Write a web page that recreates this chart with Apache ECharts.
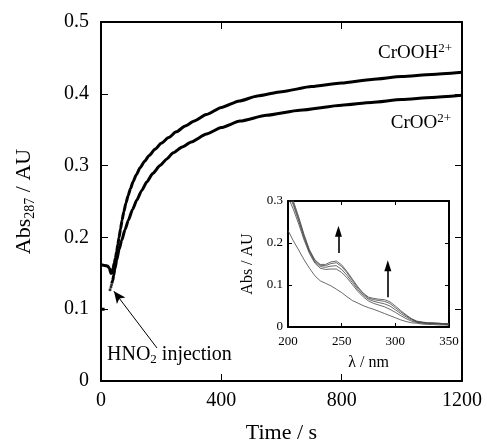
<!DOCTYPE html>
<html>
<head>
<meta charset="utf-8">
<script src="https://cdn.jsdelivr.net/npm/echarts@6/dist/echarts.min.js"></script>
<style>html,body{margin:0;padding:0;background:#fff}#c{width:487px;height:440px}</style>
</head>
<body>
<div id="c"></div>
<script>
// ---- main kinetic traces (time / s, Abs287 / AU) ----
const timeUpper = [0, 12, 22, 28, 33, 36, 40, 44, 48, 52, 56, 60, 65, 70, 76, 83, 90, 98, 107, 117, 130, 145, 160, 180, 200, 225, 250, 280, 310, 350, 400, 460, 520, 600, 700, 800, 900, 1000, 1100, 1200];
const absUpper  = [0.162, 0.161, 0.160, 0.157, 0.150, 0.150, 0.157, 0.164, 0.171, 0.180, 0.190, 0.200, 0.212, 0.224, 0.236, 0.248, 0.258, 0.268, 0.278, 0.287, 0.297, 0.306, 0.314, 0.323, 0.331, 0.339, 0.347, 0.355, 0.362, 0.371, 0.381, 0.390, 0.397, 0.403, 0.410, 0.415, 0.420, 0.424, 0.427, 0.430];
const timeLower = [36, 39, 42, 46, 52, 60, 69, 80, 91, 105, 119, 135, 152, 172, 196, 218, 240, 270, 300, 351, 400, 462, 550, 661, 800, 900, 1000, 1100, 1200];
const absLower  = [0.136, 0.140, 0.147, 0.156, 0.168, 0.183, 0.196, 0.211, 0.224, 0.239, 0.252, 0.265, 0.277, 0.289, 0.300, 0.309, 0.318, 0.326, 0.333, 0.344, 0.353, 0.362, 0.370, 0.377, 0.384, 0.388, 0.392, 0.395, 0.398];
const timeDots  = [30, 33, 35];
const absDots   = [0.127, 0.131, 0.134];
const timeLowerPre = [0, 12];
const absLowerPre  = [0.100, 0.100];
// annotation arrow (data units): tail -> tip
const injArrowTail = [186, 0.046];
const injArrowTip  = [43, 0.125];

// ---- inset spectra (λ / nm, Abs / AU) ----
const wavelengths = [200,205,210,215,220,225,230,235,240,245,250,255,260,265,270,275,280,285,290,295,300,305,310,315,320,325,330,335,340,345,350];
const spec0 = [0.230,0.205,0.183,0.160,0.140,0.122,0.110,0.104,0.098,0.090,0.082,0.072,0.063,0.057,0.051,0.046,0.042,0.037,0.032,0.027,0.022,0.017,0.013,0.010,0.009,0.007,0.006,0.006,0.005,0.005,0.004];
const spec1 = [0.31,0.28,0.245,0.207,0.175,0.152,0.140,0.137,0.138,0.138,0.130,0.117,0.101,0.085,0.072,0.062,0.056,0.052,0.048,0.042,0.035,0.027,0.020,0.014,0.011,0.009,0.008,0.008,0.007,0.006,0.006];
const spec2 = [0.32,0.29,0.252,0.212,0.178,0.155,0.144,0.142,0.145,0.146,0.137,0.123,0.106,0.089,0.076,0.066,0.061,0.058,0.055,0.050,0.041,0.032,0.024,0.017,0.012,0.010,0.009,0.009,0.008,0.007,0.007];
const spec3 = [0.33,0.295,0.257,0.216,0.181,0.158,0.147,0.146,0.151,0.153,0.144,0.129,0.111,0.093,0.079,0.069,0.065,0.063,0.061,0.056,0.046,0.036,0.027,0.019,0.013,0.011,0.010,0.009,0.009,0.008,0.008];
const spec4 = [0.34,0.30,0.262,0.220,0.184,0.160,0.149,0.149,0.155,0.157,0.148,0.132,0.114,0.096,0.081,0.071,0.068,0.066,0.065,0.060,0.050,0.039,0.029,0.020,0.014,0.012,0.010,0.010,0.009,0.008,0.008];
const insetArrows = [[[247, 0.176], [247, 0.228]], [[293, 0.071], [293, 0.146]]];

// tick labels
const mainXTicks = [0, 400, 800, 1200];
const mainYTicks = [0, 0.1, 0.2, 0.3, 0.4, 0.5];

const zip = (a, b) => a.map((v, i) => [v, b[i]]);
const F = '"Liberation Serif", "DejaVu Serif", serif';

const chart = echarts.init(document.getElementById('c'), null, {renderer: 'canvas'});

function boxAxis(type, pos, gridIndex, min, max, interval, showLabel, tickLen, fs, labelMargin, fmt) {
  return {
    type: 'value', gridIndex, position: pos, min, max, interval,
    axisLine: {show: true, onZero: false, lineStyle: {color: '#000', width: 2}},
    axisTick: {show: true, inside: true, length: tickLen, lineStyle: {color: '#000', width: 1}},
    axisLabel: {show: showLabel, color: '#000', fontFamily: F, fontSize: fs, margin: labelMargin, formatter: fmt},
    splitLine: {show: false}
  };
}

const specSeries = [spec0, spec1, spec2, spec3, spec4].map((s, i) => ({
  type: 'line', xAxisIndex: 2, yAxisIndex: 2, data: zip(wavelengths, s),
  showSymbol: false, symbol: 'none', clip: true,
  lineStyle: {color: '#444', width: 0.8}, silent: true, animation: false,
  markLine: i === 0 ? {
    silent: true, animation: false, symbol: ['none', 'triangle'], symbolSize: [7, 11],
    lineStyle: {color: '#000', width: 1.6, type: 'solid'}, label: {show: false},
    data: insetArrows.map(a => [{coord: a[0]}, {coord: a[1]}])
  } : undefined
}));

const option = {
  animation: false,
  backgroundColor: '#fff',
  grid: [
    {left: 101, top: 22, width: 361, height: 359, show: false, containLabel: false, outerBoundsMode: 'none'},
    {left: 288, top: 201, width: 161, height: 126, show: true, backgroundColor: '#fff', borderWidth: 0, containLabel: false, outerBoundsMode: 'none'}
  ],
  xAxis: [
    Object.assign(boxAxis('x', 'bottom', 0, 0, 1200, 400, true, 7, 20, 10, v => String(v)), {
      name: 'Time / s', nameLocation: 'middle', nameGap: 41,
      nameTextStyle: {color: '#000', fontFamily: F, fontSize: 22}
    }),
    boxAxis('x', 'top', 0, 0, 1200, 400, false, 7, 20, 8),
    Object.assign(boxAxis('x', 'bottom', 1, 200, 350, 50, true, 4, 13, 8, v => String(v)), {
      name: 'λ / nm', nameLocation: 'middle', nameGap: 28,
      nameTextStyle: {color: '#000', fontFamily: F, fontSize: 16}
    }),
    boxAxis('x', 'top', 1, 200, 350, 50, false, 4, 13, 8)
  ],
  yAxis: [
    Object.assign(boxAxis('y', 'left', 0, 0, 0.5, 0.1, true, 7, 20, 12, v => String(+v.toFixed(1))), {
      name: '{m|Abs}{s|287}{m| / AU}', nameLocation: 'middle', nameGap: 64, nameRotate: 90,
      nameTextStyle: {color: '#000', fontFamily: F, fontSize: 22,
        rich: {m: {fontFamily: F, fontSize: 22, lineHeight: 26, color: '#000'},
               s: {fontFamily: F, fontSize: 14, lineHeight: 10, verticalAlign: 'bottom', color: '#000'}}}
    }),
    boxAxis('y', 'right', 0, 0, 0.5, 0.1, false, 7, 20, 8),
    Object.assign(boxAxis('y', 'left', 1, 0, 0.3, 0.1, true, 4, 13, 5, v => String(+v.toFixed(1))), {
      name: 'Abs / AU', nameLocation: 'middle', nameGap: 32, nameRotate: 90,
      nameTextStyle: {color: '#000', fontFamily: F, fontSize: 16}
    }),
    boxAxis('y', 'right', 1, 0, 0.3, 0.1, false, 4, 13, 8)
  ],
  series: [
    {type: 'line', xAxisIndex: 0, yAxisIndex: 0, data: zip(timeUpper, absUpper), symbol: 'none', smooth: 0.2, smoothMonotone: 'x',
     lineStyle: {color: '#000', width: 3}, silent: true,
     markLine: {silent: true, symbol: ['none', 'arrow'], symbolSize: [8, 12], label: {show: false},
       lineStyle: {color: '#000', width: 1, type: 'solid'},
       data: [[{coord: injArrowTail}, {coord: injArrowTip}]]}},
    {type: 'line', xAxisIndex: 0, yAxisIndex: 0, data: zip(timeLower, absLower), symbol: 'none', smooth: 0.2, smoothMonotone: 'x',
     lineStyle: {color: '#000', width: 3}, silent: true},
    {type: 'line', xAxisIndex: 0, yAxisIndex: 0, data: zip(timeLowerPre, absLowerPre), symbol: 'none',
     lineStyle: {color: '#000', width: 3}, silent: true},
    {type: 'scatter', xAxisIndex: 0, yAxisIndex: 0, data: zip(timeDots, absDots), symbol: 'circle', symbolSize: 3,
     itemStyle: {color: '#000'}, silent: true},
    ...specSeries
  ],
  graphic: [
    {type: 'text', left: 107, top: 345, style: {
      text: '{m|HNO}{s|2}{m| injection}', fill: '#000',
      rich: {m: {fontFamily: F, fontSize: 20, lineHeight: 22, fill: '#000'},
             s: {fontFamily: F, fontSize: 13, lineHeight: 8, verticalAlign: 'bottom', fill: '#000'}}}},
    {type: 'text', right: 35, top: 42, style: {
      text: '{m|CrOOH}{p|2+}', fill: '#000',
      rich: {m: {fontFamily: F, fontSize: 19, lineHeight: 22, fill: '#000'},
             p: {fontFamily: F, fontSize: 13, lineHeight: 8, verticalAlign: 'top', fill: '#000'}}}},
    {type: 'text', right: 36, top: 112, style: {
      text: '{m|CrOO}{p|2+}', fill: '#000',
      rich: {m: {fontFamily: F, fontSize: 19, lineHeight: 22, fill: '#000'},
             p: {fontFamily: F, fontSize: 13, lineHeight: 8, verticalAlign: 'top', fill: '#000'}}}}
  ]
};
chart.setOption(option);
</script>
</body>
</html>
